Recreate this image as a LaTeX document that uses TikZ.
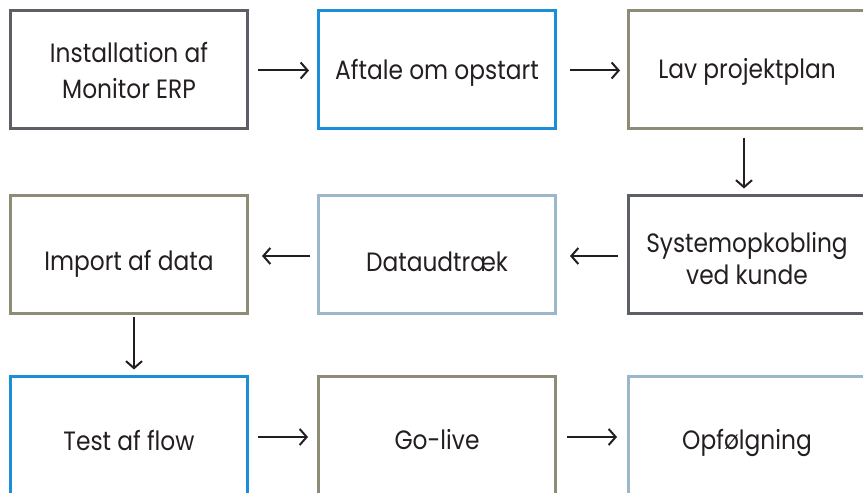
\documentclass[tikz,border=0pt]{standalone}
\usepackage{fontspec}
\setmainfont{Poppins}[FakeStretch=0.88]
\usetikzlibrary{arrows.meta}
\definecolor{cdark}{HTML}{5D5F66}
\definecolor{cblue}{HTML}{1B8ED8}
\definecolor{colive}{HTML}{8E8B76}
\definecolor{clight}{HTML}{9DB7CA}
\definecolor{ctext}{HTML}{231F20}
\tikzset{
  box/.style={draw=#1, line width=3pt, minimum width=237pt, minimum height=118pt, inner sep=0pt},
  txt/.style={align=center, font=\fontsize{26.5}{36}\selectfont, text=ctext, inner sep=0pt},
  flow/.style={draw=ctext, line width=2pt, -{Straight Barb[length=7pt,width=16pt,line width=2pt]}}
}
\begin{document}
\begin{tikzpicture}[x=1pt,y=1pt]
\useasboundingbox (0,0) rectangle (863,493);
\node[box=cdark]  (n1) at (129,423.5) {};
\node[box=cblue]  (n2) at (437,423.5) {};
\node[box=colive] (n3) at (747,423.5) {};
\node[box=colive] (n4) at (129,238) {};
\node[box=clight] (n5) at (437,238) {};
\node[box=cdark]  (n6) at (747,238) {};
\node[box=cblue]  (n7) at (129,57) {};
\node[box=colive] (n8) at (437,57) {};
\node[box=clight] (n9) at (747,57) {};
\node[txt] (t1) at ([yshift=-1pt]n1.center) {Installation af\\Monitor ERP};
\node[txt] (t2) at ([yshift=-3pt]n2.center) {Aftale om opstart};
\node[txt] (t3) at ([yshift=-2pt]n3.center) {Lav projektplan};
\node[txt] (t4) at ([yshift=-9pt]n4.center) {Import af data};
\node[txt] (t5) at ([yshift=-7pt]n5.center) {Dataudtræk};
\node[txt, font=\fontsize{26.5}{32}\selectfont] (t6) at ([yshift=-4pt]n6.center) {Systemopkobling\\ved kunde};
\node[txt] (t7) at ([yshift=-4pt]n7.center) {Test af flow};
\node[txt] (t8) at ([yshift=-4pt]n8.center) {Go-live};
\node[txt] (t9) at ([yshift=-7pt]n9.center) {Opfølgning};
\draw[flow, shorten <=9pt, shorten >=8pt] ([yshift=-1pt]n1.east) -- ([yshift=-1pt]n2.west);
\draw[flow, shorten <=13pt, shorten >=7pt] ([yshift=-1pt]n2.east) -- ([yshift=-1pt]n3.west);
\draw[flow, shorten <=8pt, shorten >=6pt] ([xshift=-3pt]n3.south) -- ([xshift=-3pt]n6.north);
\draw[flow, shorten <=9pt, shorten >=13pt] ([yshift=-1pt]n6.west) -- ([yshift=-1pt]n5.east);
\draw[flow, shorten <=7pt, shorten >=13pt] ([yshift=-1pt]n5.west) -- ([yshift=-1pt]n4.east);
\draw[flow, shorten <=2pt, shorten >=6pt] ([xshift=5pt]n4.south) -- ([xshift=5pt]n7.north);
\draw[flow, shorten <=9pt, shorten >=9pt] ([yshift=-1pt]n7.east) -- ([yshift=-1pt]n8.west);
\draw[flow, shorten <=10pt, shorten >=10pt] ([yshift=-1pt]n8.east) -- ([yshift=-1pt]n9.west);
\end{tikzpicture}
\end{document}
